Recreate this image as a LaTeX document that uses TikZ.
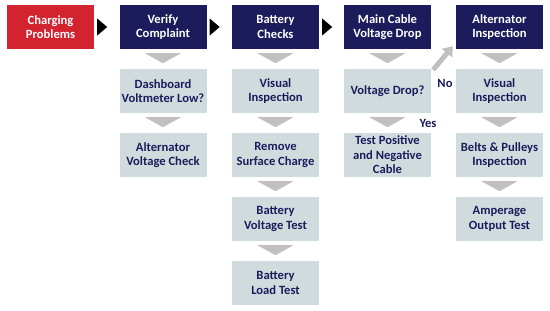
\documentclass[tikz,border=0pt]{standalone}
\usepackage{fontspec}
\setmainfont{Carlito}
\usetikzlibrary{calc,arrows.meta}
\definecolor{redbox}{HTML}{D2232E}
\definecolor{navy}{HTML}{1C1C5C}
\definecolor{graybox}{HTML}{D0DBDD}
\definecolor{tri}{HTML}{C0C0C0}
\tikzset{
  box/.style={minimum width=87pt,minimum height=44pt,inner sep=1pt,align=center,
    font=\fontsize{12.6}{14.6}\selectfont\bfseries},
  headbox/.style={box,fill=navy,text=white},
  startbox/.style={box,fill=redbox,text=white},
  subbox/.style={box,fill=graybox,text=navy},
  lbl/.style={font=\fontsize{12.6}{14.6}\selectfont\bfseries,text=navy,inner sep=0pt},
}
\newcommand{\downtri}[2]{\fill[tri] ($(#1.south)+(-18pt,-4pt)$) -- ($(#1.south)+(18pt,-4pt)$) -- ($(#1.south)+(0,-14pt)$) -- cycle;}
\newcommand{\righttri}[2]{\fill[black] ($(#1.east)+(3pt,8.5pt)$) -- ($(#1.east)+(13pt,0)$) -- ($(#1.east)+(3pt,-8.5pt)$) -- cycle;}
\begin{document}
\begin{tikzpicture}[x=1pt,y=-1pt]
\useasboundingbox[fill=white] (0,0) rectangle (550,311);
% top row
\node[startbox] (cp) at (50.5,27) {Charging\\Problems};
\node[headbox] (vc) at (163,27) {Verify\\Complaint};
\node[headbox] (bc) at (275.5,27) {Battery\\Checks};
\node[headbox] (mc) at (387.5,27) {Main Cable\\Voltage Drop};
\node[headbox] (ai) at (499.5,27) {Alternator\\Inspection};
% column 2
\node[subbox] (dv) at (163,91) {Dashboard\\Voltmeter Low?};
\node[subbox] (av) at (163,155) {Alternator\\Voltage Check};
% column 3
\node[subbox] (vi1) at (275.5,91) {Visual\\Inspection};
\node[subbox] (rs) at (275.5,155) {Remove\\Surface Charge};
\node[subbox] (bv) at (275.5,219) {Battery\\Voltage Test};
\node[subbox] (bl) at (275.5,283) {Battery\\Load Test};
% column 4
\node[subbox] (vd) at (387.5,91) {Voltage Drop?};
\node[subbox] (tp) at (387.5,155) {Test Positive\\and Negative\\Cable};
% column 5
\node[subbox] (vi2) at (499.5,91) {Visual\\Inspection};
\node[subbox] (bp) at (499.5,155) {Belts \& Pulleys\\Inspection};
\node[subbox] (ao) at (499.5,219) {Amperage\\Output Test};
% right triangles
\righttri{cp}{vc}
\righttri{vc}{bc}
\righttri{bc}{mc}
% down triangles
\downtri{vc}{dv}
\downtri{dv}{av}
\downtri{bc}{vi1}
\downtri{vi1}{rs}
\downtri{rs}{bv}
\downtri{bv}{bl}
\downtri{mc}{vd}
\downtri{vd}{tp}
\downtri{ai}{vi2}
\downtri{vi2}{bp}
\downtri{bp}{ao}
% No arrow
\coordinate (nostart) at ($(vd.north east)+(2pt,-1pt)$);
\coordinate (noend) at ($(ai.south west)+(-3pt,3pt)$);
\draw[tri,line width=5pt,-{Triangle[width=13pt,length=9pt]}] (nostart) -- (noend);
\node[lbl] (no) at (445,83) {No};
\node[lbl] (yes) at (428,123) {Yes};
\end{tikzpicture}
\end{document}
